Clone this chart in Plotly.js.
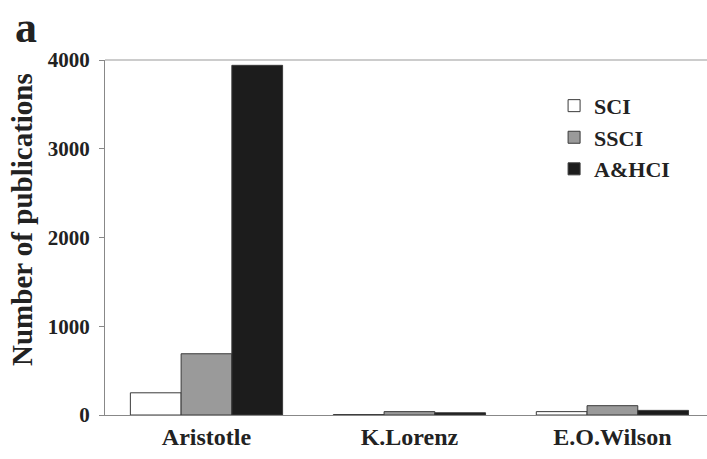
<!DOCTYPE html>
<html>
<head>
<meta charset="utf-8">
<script src="https://cdn.plot.ly/plotly-3.0.1.min.js"></script>
<style>html,body{margin:0;padding:0;background:#fff;}#chart{width:707px;height:459px;}</style>
</head>
<body>
<div id="chart"></div>
<script>
const categories = ["Aristotle", "K.Lorenz", "E.O.Wilson"];
const seriesNames = ["SCI", "SSCI", "A&HCI"];
const sciValues = [250, 5, 38];
const ssciValues = [690, 38, 105];
const ahciValues = [3940, 25, 52];
const yTickValues = [0, 1000, 2000, 3000, 4000];

const serif = "'Liberation Serif', 'Times New Roman', serif";
const colors = ["#ffffff", "#9a9a9a", "#1c1c1c"];
const values = [sciValues, ssciValues, ahciValues];

const traces = seriesNames.map((name, i) => ({
  type: "bar",
  name: name,
  x: categories,
  y: values[i],
  marker: { color: colors[i], line: { color: "#3a3a3a", width: 1 } }
}));

const layout = {
  width: 707, height: 459,
  margin: { l: 105, r: 0, t: 60, b: 44 },
  paper_bgcolor: "#fff", plot_bgcolor: "#fff",
  barmode: "group",
  bargap: 0.25,
  bargroupgap: 0,
  showlegend: true,
  legend: {
    x: 0.746, xanchor: "left", y: 0.93, yanchor: "top",
    font: { family: serif, size: 22, color: "#222", weight: "bold" },
    bgcolor: "rgba(0,0,0,0)",
    tracegroupgap: 0
  },
  xaxis: {
    type: "category",
    range: [-0.5, 2.466],
    showline: true, linecolor: "#888", linewidth: 1,
    ticks: "",
    tickfont: { family: serif, size: 24, color: "#222", weight: "bold" },
    showgrid: false, zeroline: false
  },
  yaxis: {
    range: [0, 4000],
    tickvals: yTickValues,
    ticktext: yTickValues.map(String),
    showline: true, linecolor: "#888", linewidth: 1,
    ticks: "outside", ticklen: 5, tickcolor: "#888",
    ticklabelstandoff: 5,
    tickfont: { family: serif, size: 21, color: "#222", weight: "bold" },
    showgrid: false, zeroline: false
  },
  shapes: [
    { type: "line", xref: "paper", yref: "paper", x0: 0, x1: 1, y0: 1, y1: 1, line: { color: "#999", width: 1 } }
  ],
  annotations: [
    { text: "<b>a</b>", xref: "paper", yref: "paper", x: -0.152, y: 1.166, xanchor: "left", yanchor: "top",
      showarrow: false, font: { family: serif, size: 44, color: "#222" } },
    { text: "<b>Number of publications</b>", xref: "paper", yref: "paper", x: -0.138, y: 0.552,
      xanchor: "center", yanchor: "middle", textangle: -90,
      showarrow: false, font: { family: serif, size: 29, color: "#222" } }
  ]
};

Plotly.newPlot("chart", traces, layout, { displayModeBar: false, staticPlot: true });
</script>
</body>
</html>
